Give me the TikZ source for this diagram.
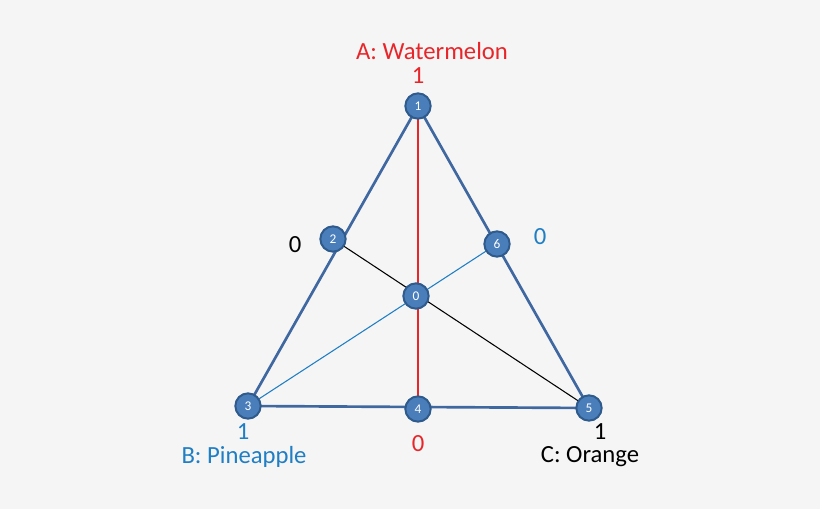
\documentclass[tikz,border=0pt]{standalone}
\usepackage{fontspec}
\setmainfont{Carlito}
\definecolor{bg}{HTML}{F5F5F5}
\definecolor{nfill}{HTML}{4A7EBB}
\definecolor{nedge}{HTML}{2E5A8C}
\definecolor{tri}{HTML}{3F67A0}
\definecolor{myred}{HTML}{E8262A}
\definecolor{myblue}{HTML}{1F7EC4}
\begin{document}
\begin{tikzpicture}[x=0.75pt,y=-0.75pt,
  pt/.style={circle,fill=nfill,draw=nedge,line width=1.5pt,minimum size=19pt,inner sep=0pt,text=white,font=\fontsize{10}{11}\selectfont},
  lab/.style={font=\fontsize{18.5}{20}\selectfont,inner sep=0.5pt}]
\fill[bg] (0,0) rectangle (820,509);
\useasboundingbox (0,0) rectangle (820,509);
\coordinate (c1) at (418,106);
\coordinate (c2) at (333,239);
\coordinate (c3) at (248,406);
\coordinate (c4) at (418,409);
\coordinate (c5) at (589,408);
\coordinate (c6) at (497,244);
\coordinate (c0) at (416,296);
\draw[myred,line width=1pt] (c1) -- (c4);
\draw[black,line width=0.8pt] (c2) -- (c5);
\draw[myblue,line width=0.8pt] (c3) -- (c6);
\draw[tri,line width=2pt] (c1) -- (c3) -- (c5) -- cycle;
\foreach \i in {0,...,6} \node[pt] (n\i) at (c\i) {\i};
\node[lab,text=myred] (ta) at (432,51) {A: Watermelon};
\node[lab,text=myred] (t1a) at (418,76) {1};
\node[lab,text=myblue] (tb) at (244,457) {B: Pineapple};
\node[lab,text=myblue] (t1b) at (243,432) {1};
\node[lab] (tc) at (590,457) {C: Orange};
\node[lab] (t1c) at (600,432) {1};
\node[lab,text=myred] (t0a) at (418,444) {0};
\node[lab] (t0c) at (295,245) {0};
\node[lab,text=myblue] (t0b) at (540,237) {0};
\end{tikzpicture}
\end{document}
